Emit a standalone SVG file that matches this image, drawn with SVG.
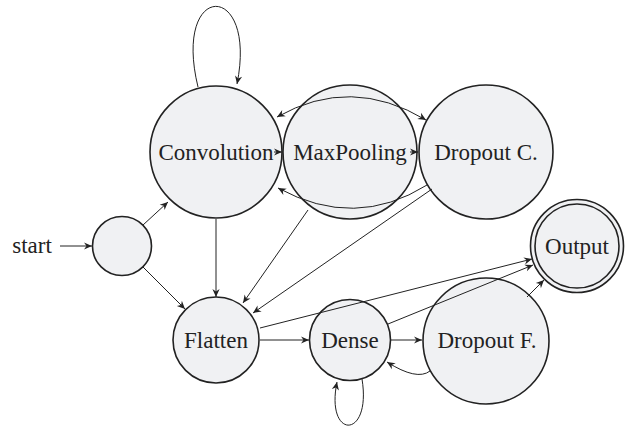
<svg xmlns="http://www.w3.org/2000/svg" width="626" height="431" viewBox="0 0 626 431">
<style>
.node circle{fill:#f0f1f3;stroke:#222;stroke-width:1.6}
.node text,.lbl{font-family:"Liberation Serif","Times New Roman",serif;font-size:23px;fill:#222;text-anchor:middle}
#edges path{fill:none;stroke:#222;stroke-width:1;marker-end:url(#arr)}
</style>
<defs>
<marker id="arr" markerUnits="userSpaceOnUse" markerWidth="12" markerHeight="10" viewBox="-9 -5 10 10" refX="0" refY="0" orient="auto-start-reverse">
<path d="M0,0 L-8,-3.6 L-5.5,0 L-8,3.6 Z" fill="#222" stroke="none"/>
</marker>
</defs>
<rect width="626" height="431" fill="#fff"/>
<g id="nodes">
<g id="s0" class="node"><circle cx="122" cy="246" r="29.5"/></g>
<g id="convolution" class="node"><circle cx="216" cy="152" r="66"/><text x="216" y="160">Convolution</text></g>
<g id="maxpooling" class="node"><circle cx="350" cy="152" r="67"/><text x="350" y="160">MaxPooling</text></g>
<g id="dropoutc" class="node"><circle cx="486" cy="152" r="67"/><text x="486" y="160">Dropout C.</text></g>
<g id="flatten" class="node"><circle cx="216" cy="340" r="43"/><text x="216" y="348">Flatten</text></g>
<g id="dense" class="node"><circle cx="350" cy="340" r="40.5"/><text x="350" y="348">Dense</text></g>
<g id="dropoutf" class="node"><circle cx="486" cy="341" r="63"/><text x="487" y="348">Dropout F.</text></g>
<g id="output" class="node"><circle cx="577" cy="246" r="46.5"/><circle cx="577" cy="246" r="42"/><text x="577" y="254">Output</text></g>
</g>
<text class="lbl" x="32" y="253">start</text>
<g id="edges">
<path d="M60,246 L92,246"/>
<path d="M143,225 L168,202"/>
<path d="M143,267 L185,309"/>
<path d="M216,219 L216,297"/>
<path d="M198,87 C172,-20 258,-20 237,84"/>
<path d="M274,152 L282,152"/>
<path d="M410,152 L418,152"/>
<path d="M277,117 Q351,75 426,120" style="marker-start:url(#arr)"/>
<path d="M427,185 Q355,230 278,188"/>
<path d="M308,210 L243,303"/>
<path d="M432,189 L253,313"/>
<path d="M260,340 L309,340"/>
<path d="M260,328 L532,259"/>
<path d="M388,324 L533,265"/>
<path d="M391,340 L422,340"/>
<path d="M430,371 Q417,381 387,362"/>
<path d="M362,379 C372,440 325,440 337,382"/>
<path d="M527,297 L544,280"/>
</g>
</svg>
